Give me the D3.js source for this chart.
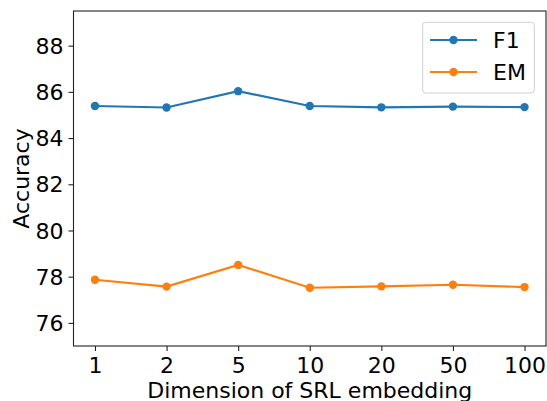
<!DOCTYPE html>
<html>
<head>
<meta charset="utf-8">
<script src="https://cdn.jsdelivr.net/npm/d3@7"></script>
<style>
  body { margin: 0; background: #fff; }
  svg { display: block; font-family: "DejaVu Sans", sans-serif; }
</style>
</head>
<body>
<svg id="chart" width="547" height="401"></svg>
<script>
// dimensions of the SRL embedding (categorical x axis)
const dims = ["1", "2", "5", "10", "20", "50", "100"]
const f1 = [85.39, 85.32, 86.03, 85.39, 85.33, 85.36, 85.34]
const em = [77.87, 77.57, 78.51, 77.52, 77.58, 77.65, 77.55]
const yTicks = [76, 78, 80, 82, 84, 86, 88]

const series = [
  { name: "F1", values: f1, color: "#1f77b4" },
  { name: "EM", values: em, color: "#ff7f0e" }
]

const fontSize = "22px"
const svg = d3.select("#chart")
const plotLeft = 73.5, plotRight = 546, plotTop = 11, plotBottom = 346

const x = d3.scalePoint()
  .domain(dims)
  .range([plotLeft, plotRight])
  .padding(0.3)

const y = d3.scaleLinear()
  .domain([75, 89.5])
  .range([plotBottom, plotTop])

// axes
const xAxis = svg.append("g")
  .attr("transform", `translate(0,${plotBottom})`)
  .call(d3.axisBottom(x).tickSize(5).tickPadding(6))
const yAxis = svg.append("g")
  .attr("transform", `translate(${plotLeft},0)`)
  .call(d3.axisLeft(y).tickValues(yTicks).tickSize(5).tickPadding(5))

for (const g of [xAxis, yAxis]) {
  g.attr("font-family", "DejaVu Sans, sans-serif").attr("font-size", fontSize)
  g.select(".domain").remove()
  g.selectAll(".tick line").attr("stroke", "#222").attr("stroke-width", 1.1)
  g.selectAll(".tick text").attr("fill", "#000")
}
yAxis.selectAll(".tick text").attr("dy", "0.35em")

// frame
svg.append("rect")
  .attr("x", plotLeft).attr("y", plotTop)
  .attr("width", plotRight - plotLeft).attr("height", plotBottom - plotTop)
  .attr("fill", "none").attr("stroke", "#222").attr("stroke-width", 1.1)

// lines + markers
const line = d3.line()
  .x((d, i) => x(dims[i]))
  .y(d => y(d))

series.forEach(s => {
  svg.append("path")
    .datum(s.values)
    .attr("d", line)
    .attr("fill", "none")
    .attr("stroke", s.color)
    .attr("stroke-width", 2.1)

  svg.append("g")
    .selectAll("circle")
    .data(s.values)
    .join("circle")
    .attr("cx", (d, i) => x(dims[i]))
    .attr("cy", d => y(d))
    .attr("r", 4.2)
    .attr("fill", s.color)
})

// axis labels
svg.append("text")
  .attr("x", (plotLeft + plotRight) / 2)
  .attr("y", 398)
  .attr("text-anchor", "middle")
  .attr("font-size", fontSize)
  .text("Dimension of SRL embedding")

svg.append("text")
  .attr("transform", `translate(29,${(plotTop + plotBottom) / 2}) rotate(-90)`)
  .attr("text-anchor", "middle")
  .attr("font-size", fontSize)
  .text("Accuracy")

// legend
const legend = svg.append("g")
legend.append("rect")
  .attr("x", 422.7).attr("y", 22.3)
  .attr("width", 111.6).attr("height", 70.7)
  .attr("rx", 3)
  .attr("fill", "#fff").attr("fill-opacity", 0.8)
  .attr("stroke", "#d0d0d0").attr("stroke-width", 1)

series.forEach((s, i) => {
  const ly = 40 + i * 32
  legend.append("line")
    .attr("x1", 430).attr("x2", 477)
    .attr("y1", ly).attr("y2", ly)
    .attr("stroke", s.color).attr("stroke-width", 2.1)
  legend.append("circle")
    .attr("cx", 453.5).attr("cy", ly).attr("r", 4.2)
    .attr("fill", s.color)
  legend.append("text")
    .attr("x", 493).attr("y", ly)
    .attr("dy", "0.35em")
    .attr("font-size", fontSize)
    .text(s.name)
})
</script>
</body>
</html>
